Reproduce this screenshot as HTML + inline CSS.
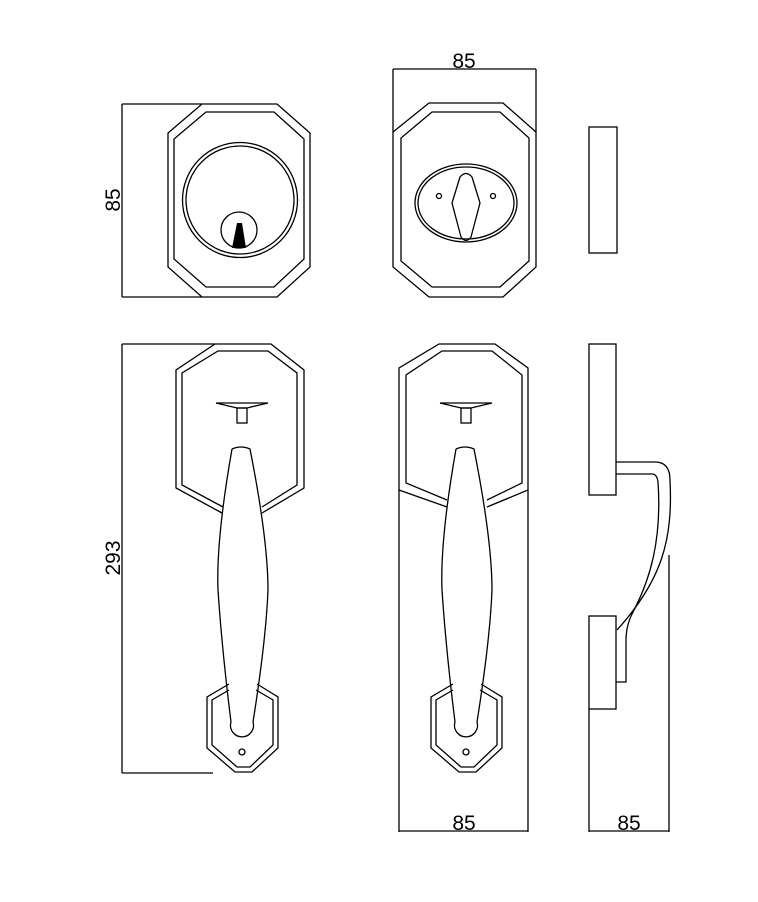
<!DOCTYPE html>
<html><head><meta charset="utf-8"><style>
html,body{margin:0;padding:0;background:#fff;}
svg{display:block;}
text{font-family:"Liberation Sans",Arial,sans-serif;font-size:21px;fill:#000;}
</style></head><body>
<svg width="758" height="902" viewBox="0 0 758 902" xmlns="http://www.w3.org/2000/svg">
<g fill="none" stroke="#000" stroke-width="1.3">
<!-- top-left deadbolt -->
<polygon points="202,104 277,104 310,133 310,267 277,297 202,297 168,267 168,133"/>
<polygon points="206,112 274,112 304,139 304,259 274,287 206,287 174,259 174,139"/>
<circle cx="240" cy="200" r="57.5"/>
<circle cx="240" cy="200" r="54"/>
<circle cx="239" cy="230" r="18"/>
<line x1="122" y1="104" x2="122" y2="297"/>
<line x1="122" y1="104" x2="202" y2="104"/>
<line x1="122" y1="297" x2="202" y2="297"/>

<!-- top-middle -->
<line x1="393" y1="69" x2="536" y2="69"/>
<line x1="393" y1="69" x2="393" y2="132"/>
<line x1="536" y1="69" x2="536" y2="132"/>
<polygon points="429,103 503,103 536,132 536,267 503,297 429,297 393,267 393,132"/>
<polygon points="432,112 500,112 529,138 529,261 500,287 432,287 401,261 401,138"/>
<ellipse cx="466" cy="203" rx="51" ry="39"/>
<ellipse cx="466" cy="203" rx="48" ry="36"/>
<circle cx="439" cy="196" r="2.5"/>
<circle cx="493" cy="196" r="2.5"/>
<path d="M460,177 Q466,170 472,177 L480,203 L471,237 Q466,244 461,237 L452,203 Z"/>

<!-- top-right rect -->
<rect x="589" y="127" width="28" height="126"/>

<!-- bottom-left plate -->
<path d="M222,513 L176,488 L176,370 L215,344 L271,344 L304,370 L304,488 L262,513"/>
<path d="M223,507 L182,485 L182,373 L218,351 L268,351 L297,373 L297,485 L262,507"/>
<line x1="122" y1="344" x2="122" y2="773"/>
<line x1="122" y1="344" x2="215" y2="344"/>
<line x1="122" y1="773" x2="213" y2="773"/>

<!-- bottom-middle plate -->
<path d="M447,507 L399,490 L399,368 L439,344 L495,344 L528,368 L528,490 L487,507"/>
<path d="M447,500 L406,483 L406,375 L442,351 L492,351 L522,375 L522,483 L487,500"/>
<line x1="399" y1="490" x2="399" y2="832"/>
<line x1="528" y1="490" x2="528" y2="832"/>
<line x1="399" y1="831" x2="528" y2="831"/>

<!-- handle + rosette (left), reused for middle -->
<g id="h">
<path d="M216,403 L268,403 L247,408 L237,408 Z"/>
<rect x="237" y="408" width="10" height="15"/>
<path d="M232,449 Q241,445 250,449 Q268,540 268,590 Q266,640 253,722"/>
<path d="M232,449 Q216,540 218,590 Q222,650 231,722"/>
<path d="M231,722 A11.5,11.5 0 1 0 253,722"/>
<path d="M229,684 L207,697 L207,748 L235,772 L252,772 L278,748 L278,697 L257,684"/>
<path d="M229,690 L212,700 L212,745 L237,767 L250,767 L273,745 L273,700 L256,690"/>
<circle cx="242" cy="752" r="3"/>
</g>
<g transform="translate(224,0)">
<path d="M216,403 L268,403 L247,408 L237,408 Z"/>
<rect x="237" y="408" width="10" height="15"/>
<path d="M232,449 Q241,445 250,449 Q268,540 268,590 Q266,640 253,722"/>
<path d="M232,449 Q216,540 218,590 Q222,650 231,722"/>
<path d="M231,722 A11.5,11.5 0 1 0 253,722"/>
<path d="M229,684 L207,697 L207,748 L235,772 L252,772 L278,748 L278,697 L257,684"/>
<path d="M229,690 L212,700 L212,745 L237,767 L250,767 L273,745 L273,700 L256,690"/>
<circle cx="242" cy="752" r="3"/>
</g>

<!-- side view -->
<rect x="589" y="344" width="27" height="151"/>
<rect x="589" y="616" width="27" height="93"/>
<path d="M616,462 L655,462 Q670,462 670,480 C673,540 662,580 617,630"/>
<path d="M616,474 L652,474 Q657,474 658,482 C662,540 650,580 633,612 Q626,625 626,640 L626,682 L616,682"/>
<line x1="669" y1="555" x2="669" y2="832"/>
<line x1="589" y1="709" x2="589" y2="832"/>
<line x1="589" y1="831" x2="669" y2="831"/>
</g>
<polygon points="237,223 242,223 246,248 232,248" fill="#000"/>
<text x="464" y="68" text-anchor="middle">85</text>
<text x="464" y="830" text-anchor="middle">85</text>
<text x="629" y="830" text-anchor="middle">85</text>
<text transform="translate(120,200) rotate(-90)" text-anchor="middle">85</text>
<text transform="translate(120,558) rotate(-90)" text-anchor="middle">293</text>
</svg>
</body></html>
